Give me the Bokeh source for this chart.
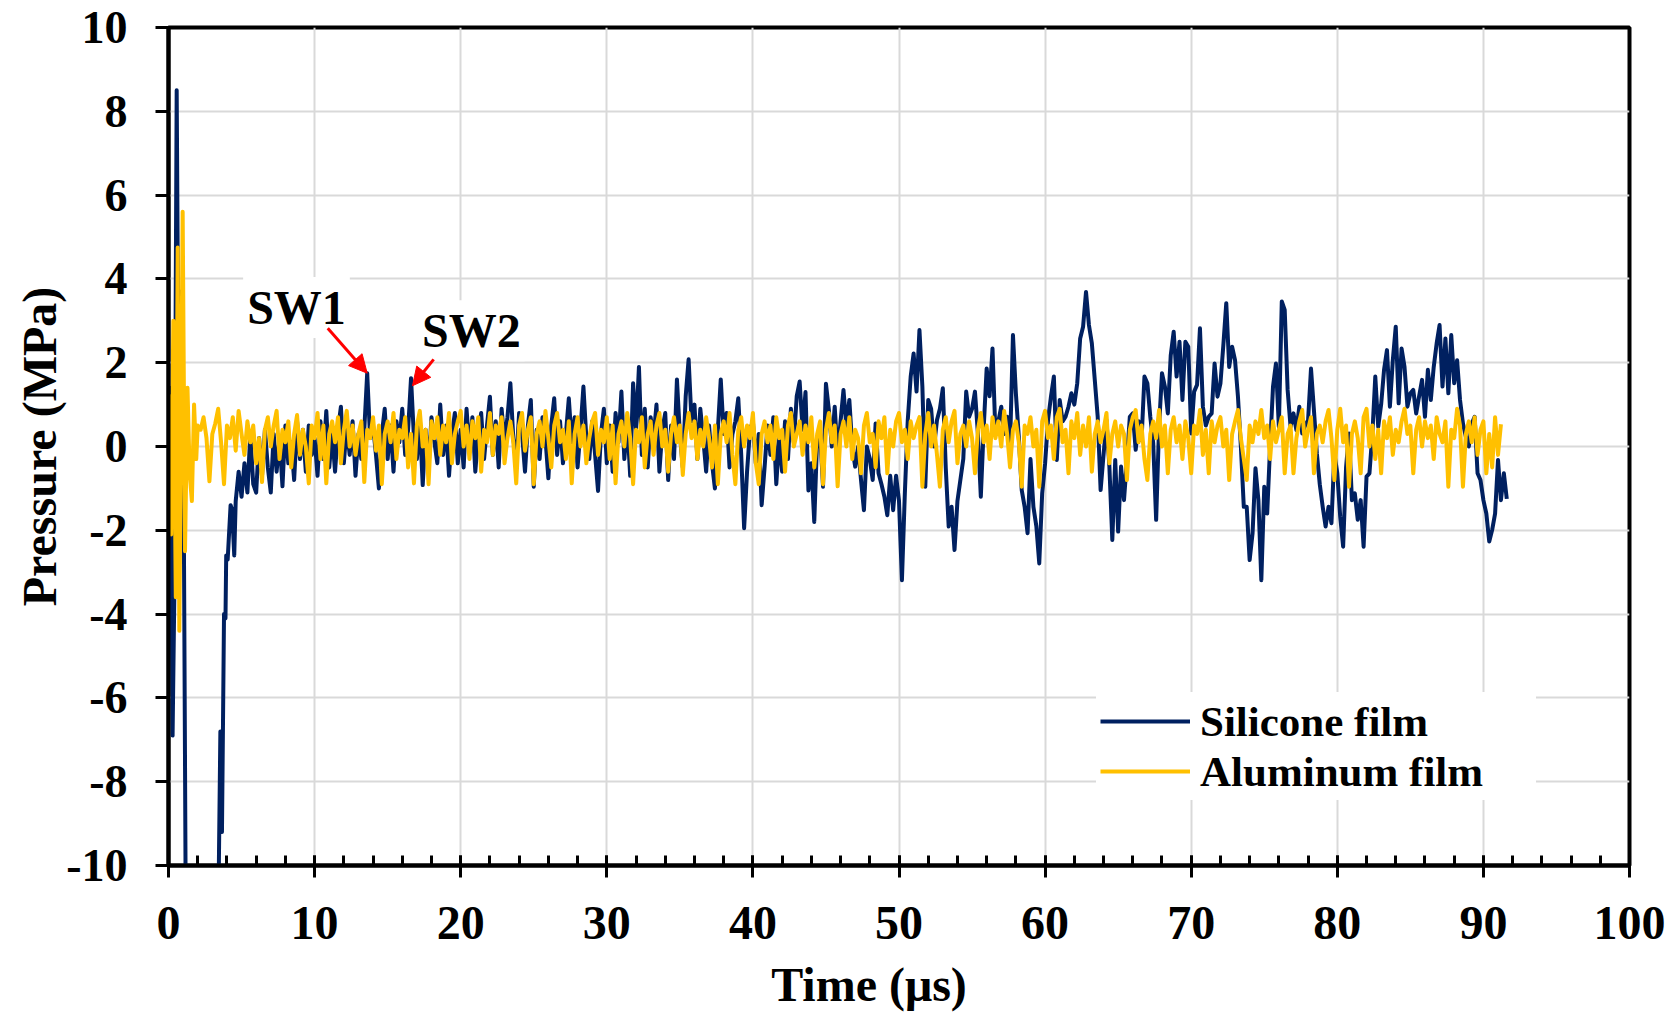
import numpy as np
from bokeh.plotting import figure
from bokeh.models import Range1d, SingleIntervalTicker, Label, Arrow, NormalHead
from bokeh.embed import file_html
from bokeh.resources import INLINE

FONT = "Liberation Serif"
NAVY = "#002060"
GOLD = "#FFC000"

# ---------------- data ----------------
X_TICKS = [0, 10, 20, 30, 40, 50, 60, 70, 80, 90, 100]
Y_TICKS = [-10, -8, -6, -4, -2, 0, 2, 4, 6, 8, 10]
SERIES_NAMES = ["Silicone film", "Aluminum film"]
X_TITLE = "Time (μs)"
Y_TITLE = "Pressure (MPa)"

# Silicone film: irregular early part (time, pressure)
SIL_EARLY_T = [0.0, 0.08, 0.2, 0.28, 0.4, 0.56, 0.72, 0.86, 1.0, 1.06, 1.25, 3.3,
               3.45, 3.55, 3.66, 3.8, 3.9, 3.95, 4.05, 4.25, 4.35, 4.5, 4.6, 4.8]
SIL_EARLY_V = [0.3, 1.4, -2.2, -6.9, -3.5, 8.5, -0.5, 3.7, -1.5, -2.6, -16.0, -16.0,
               -9.9, -6.8, -9.2, -4.0, -4.1, -2.6, -2.7, -1.4, -1.5, -2.6, -1.3, -0.6]
# Silicone film: sampled every 0.2 us from 5.0 us
SIL_START = 5.0
SIL_STEP = 0.2
SIL_MAIN_V = [
    -1.2, -0.4, -1.1, 0.3, -0.9, -1.1, 0.2, -0.7, 0.4, -0.5, -1.1, 0.3, -0.6, 0.2, -0.95, 0.5, -0.4, 0.1, -0.8, 0.6, -0.3, 0.4, -0.6, 0.5, -0.2,
    0.2, -0.7, 0.6, -0.3, 0.85, -0.5, 0.3, -0.6, 0.4, 0.95, -0.4, 0.5, -0.2, 0.6, -0.7, 0.3, -0.3, 0.4, 1.75, 0.2, 0.5, -0.2, -1.0, 0.3, 0.9,
    -0.3, 0.5, -0.6, 0.6, 0.1, 0.9, -0.2, 0.4, 1.63, 0.2, -0.3, 0.6, -0.92, 0.4, -0.5, 0.7, 0.1, -0.4, 1.0, -0.2, 0.5, -0.7, 0.3, 0.8, -0.4,
    0.4, -0.5, 0.9, -0.1, 0.7, -0.6, 0.3, 0.8, -0.3, 0.5, 1.19, -0.2, 0.6, -0.5, 0.9, 0.1, 0.7, 1.51, 0.2, -0.4, 0.8, 0.3, -0.6, 0.5, 1.11,
    -0.96, 0.4, -0.3, 0.7, 0.2, -0.76, 0.5, 1.15, -0.2, 0.6, -0.4, 0.3, 1.15, 0.1, 0.7, -0.5, 0.4, 1.43, 0.2, -0.3, 0.6, -0.2, -1.06, 0.3, 0.9,
    -0.4, 0.5, -0.6, 0.8, 0.1, 1.31, -0.3, 0.6, -0.7, 1.51, 0.4, 1.9, -0.2, 0.9, -0.5, 0.7, 0.2, 1.0, -0.6, 0.4, 0.8, -0.8, 0.5, -0.3, 1.6,
    0.3, -0.5, 1.2, 2.08, 0.6, 1.0, -0.3, 0.9, 0.2, -0.6, 0.5, -0.4, -1.0, 0.4, 1.6, 0.3, 0.8, -0.5, 0.3, 0.6, 1.15, -0.2, -1.95, -0.6, 0.4,
    0.6, -0.4, 0.3, -1.4, -0.5, 0.5, -0.2, 0.7, -0.9, 0.2, -0.6, 0.6, -0.3, 0.9, 0.1, 1.2, 1.55, 0.4, 1.3, -1.05, -0.4, -1.8, 0.2, 0.31, -0.96,
    1.5, 0.87, 0.0, 0.95, -0.24, 0.6, 1.35, 0.47, 1.11, 0.0, -0.48, 0.0, -0.8, -1.52, 0.0, -0.3, -0.8, 0.55, -0.64, -0.9, -1.2, -1.64, -0.7, -1.52, -0.7,
    -1.3, -3.19, -1.12, 0.63, 1.67, 2.22, 1.31, 2.78, 1.43, -0.96, 1.11, 0.9, 0.0, 0.63, 0.9, 1.39, -0.5, -1.91, -1.44, -2.47, -1.3, -0.8, -0.3, 1.31, 0.71,
    0.9, 1.31, 0.31, -1.2, 0.47, 1.86, 1.2, 2.34, 0.31, 0.6, 0.95, 0.3, 0.71, 0.0, 2.66, 1.27, 0.23, -1.04, -1.44, -2.07, -0.3, -1.44, -1.9, -2.79, -1.12,
    -0.4, 0.63, 1.19, 1.67, -0.32, 1.11, 0.6, 0.71, 0.95, 1.27, 1.0, 1.51, 2.58, 2.86, 3.69, 2.9, 2.46, 1.59, 0.71, -1.04, -0.2, 0.63, -0.48, -2.23, -0.32,
    -2.03, -0.48, -1.28, -0.32, 0.71, 0.79, -0.08, 0.6, 0.15, 1.67, 1.51, 0.71, 0.08, -1.75, 0.47, 1.75, 1.43, 0.79, 2.18, 2.74, 1.67, 2.5, 1.11, 2.5, 2.38,
    0.31, 1.31, 1.47, 2.82, 0.95, 0.5, 0.71, 0.79, 1.98, 1.19, 1.5, 2.42, 3.42, 1.9, 2.38, 2.06, 1.19, 0.0, -1.44, -1.44, -2.71, -2.07, -0.52, -1.28, -3.19,
    -0.96, -1.6, 0.0, 1.43, 1.98, 0.47, 3.46, 3.26, 1.35, 0.47, 0.79, 0.39, 0.95, 0.31, 0.5, 0.63, 1.86, 0.87, -0.16, -0.9, -1.44, -1.91, -1.44, -1.83, -0.16,
    -0.64, -1.68, -2.39, -0.5, 0.31, -1.28, -1.12, -1.75, -1.28, -2.39, -0.72, -0.64, 0.3, 1.67, 0.47, 1.0, 1.83, 2.3, 0.95, 2.06, 2.86, 1.03, 2.34, 1.9, 0.95,
    1.27, 1.35, 0.79, 1.2, 1.59, 0.71, 1.83, 1.11, 1.9, 2.46, 2.9, 1.43, 2.58, 1.27, 2.66, 1.51, 2.06, 1.11, 0.55, 0.23, 0.0, 0.55, 0.71, -0.64, -0.8,
    -1.28, -1.6, -2.27, -1.99, -1.6, -0.32, -1.28, -0.64, -1.25,
]

# Aluminum film: irregular early part (time, pressure)
AL_EARLY_T = [0.0, 0.08, 0.18, 0.33, 0.5, 0.63, 0.74, 0.88, 0.97, 1.13, 1.3, 1.45, 1.6, 1.75, 1.9]
AL_EARLY_V = [0.5, 1.2, -2.1, 3.0, -3.6, 4.75, -4.4, 1.5, 5.6, -2.5, 1.4, -0.65, -1.3, 1.0, -0.3]
# Aluminum film: sampled every 0.2 us from 2.0 us
AL_START = 2.0
AL_STEP = 0.2
AL_MAIN_V = [
    0.5, 0.4, 0.7, 0.2, -0.83, 0.3, 0.55, 0.9, 0.1, -0.9, 0.5, 0.2, 0.7, -0.1, 0.85,
    0.3, -0.2, 0.6, 0.1, 0.5, -0.4, 0.2, -0.85, 0.4, 0.7, 0.0, 0.5, 0.85, -0.3, 0.4, 0.1, 0.6, -0.5, 0.3, 0.75, -0.2, 0.4, 0.0, -0.88, 0.5,
    0.2, 0.8, -0.3, 0.5, -0.88, 0.3, 0.6, 0.1, 0.7, -0.4, 0.4, 0.85, 0.0, 0.5, -0.2, 0.3, 0.6, -0.85, 0.4, 0.2, 0.7, -0.1, 0.5, -0.9, 0.3,
    0.6, 0.1, 0.8, -0.3, 0.4, 0.2, 0.7, -0.5, 0.3, -0.88, 0.5, 0.85, 0.0, 0.4, -0.9, 0.6, 0.2, 0.7, -0.2, 0.5, 0.1, 0.8, -0.4, 0.3, 0.6,
    0.85, 0.0, 0.5, -0.3, 0.6, 0.2, 0.7, -0.6, 0.4, 0.1, 0.8, -0.2, 0.5, 0.3, 0.7, -0.4, 0.2, 0.6, 0.1, -0.88, 0.5, 0.8, -0.1, 0.4, 0.7,
    -0.9, 0.3, 0.6, 0.0, 0.85, 0.2, -0.5, 0.5, 0.8, 0.1, 0.4, -0.3, 0.6, -0.88, 0.3, 0.7, 0.0, 0.5, -0.4, 0.2, 0.6, 0.8, -0.2, 0.4, 0.1,
    0.7, -0.3, 0.5, -0.88, 0.3, 0.6, 0.0, 0.8, 0.2, -0.9, 0.4, 0.1, 0.7, -0.5, 0.3, 0.6, -0.2, 0.5, 0.8, 0.0, 0.4, -0.6, 0.3, 0.7, 0.1,
    0.5, -0.68, 0.3, 0.8, 0.2, 0.6, -0.3, 0.4, 0.0, 0.7, 0.2, -0.5, 0.5, -0.9, 0.3, 0.6, 0.1, 0.8, -0.2, -0.9, 0.4, 0.7, 0.0, 0.5, 0.2,
    0.8, -0.4, -0.9, 0.3, 0.6, 0.1, 0.5, -0.3, 0.7, 0.2, 0.4, -0.6, 0.5, 0.8, 0.0, 0.3, 0.6, -0.2, 0.5, 0.1, 0.7, -0.5, 0.3, 0.6, -0.9,
    0.4, 0.8, 0.1, 0.5, -0.95, 0.3, 0.6, 0.0, 0.7, -0.3, 0.4, 0.2, -0.64, 0.5, 0.8, 0.1, 0.3, -0.5, 0.6, 0.2, 0.7, -0.64, 0.4, 0.0, 0.6,
    0.8, 0.1, 0.4, -0.3, 0.6, 0.2, 0.5, 0.7, -0.96, 0.3, 0.8, 0.0, 0.5, -0.2, -0.96, 0.4, 0.7, 0.1, 0.6, 0.85, -0.4, 0.3, 0.5, 0.0, 0.6,
    0.2, -0.64, 0.4, 0.8, 0.1, 0.5, -0.3, 0.7, 0.2, 0.6, 0.0, 0.85, 0.3, -0.5, 0.4, 0.6, 0.1, -0.96, 0.5, 0.3, 0.7, 0.0, 0.4, -0.96, 0.6,
    0.85, 0.2, 0.5, -0.3, 0.7, 0.9, 0.1, 0.4, -0.64, 0.6, 0.2, 0.8, -0.2, 0.5, 0.0, 0.7, -0.6, 0.3, 0.6, 0.1, 0.4, 0.8, -0.4, 0.3, 0.6,
    0.0, 0.5, 0.3, -0.8, 0.4, 0.7, 0.87, 0.1, 0.5, -0.3, -0.8, 0.3, 0.6, 0.2, 0.87, 0.0, 0.5, -0.64, 0.4, 0.7, 0.1, 0.5, -0.3, 0.6, 0.2,
    -0.64, 0.5, 0.3, 0.87, -0.2, 0.4, -0.64, 0.6, 0.1, 0.5, 0.7, 0.0, 0.4, -0.8, 0.3, 0.6, 0.87, 0.2, -0.3, -0.8, 0.5, 0.1, 0.6, 0.3, 0.87,
    0.2, 0.5, -0.3, 0.6, 0.1, 0.4, 0.7, -0.64, 0.3, 0.5, -0.64, 0.2, 0.6, 0.87, 0.0, 0.4, 0.7, -0.64, 0.3, 0.5, 0.1, 0.6, 0.87, 0.2, -0.8,
    0.4, 0.9, 0.1, 0.5, -0.96, 0.3, 0.6, 0.2, -0.64, 0.7, 0.9, 0.0, 0.5, -0.3, 0.4, -0.64, 0.6, 0.2, 0.7, -0.2, 0.4, 0.1, 0.6, 0.9, 0.3,
    0.5, -0.64, 0.4, 0.7, 0.0, 0.6, 0.2, 0.5, -0.3, 0.7, 0.3, 0.1, 0.6, -0.96, 0.4, 0.2, 0.9, 0.5, -0.96, 0.3, 0.6, 0.1, 0.7, -0.2, 0.4,
    0.6, -0.64, 0.3, -0.5, 0.7, -0.2, 0.53,
]

# annotations (data coordinates)
SW_LABELS = ["SW1", "SW2"]
SW_LABEL_POS = [(8.76, 3.32), (20.73, 2.76)]
SW_ARROW_FROM = [(10.9, 2.82), (18.15, 2.08)]
SW_ARROW_TO = [(13.6, 1.75), (16.7, 1.45)]

# ---------------- build series ----------------
sil_t = list(SIL_EARLY_T) + list(np.round(SIL_START + SIL_STEP * np.arange(len(SIL_MAIN_V)), 3))
sil_v = list(SIL_EARLY_V) + list(SIL_MAIN_V)
al_t = list(AL_EARLY_T) + list(np.round(AL_START + AL_STEP * np.arange(len(AL_MAIN_V)), 3))
al_v = list(AL_EARLY_V) + list(AL_MAIN_V)

# the x title in the reference sits a little left of the frame centre:
# trailing no-break spaces shift the centred title accordingly
x_title_text = X_TITLE + "\u00a0" * 5

p = figure(width=1668, height=1014,
           x_range=Range1d(X_TICKS[0], X_TICKS[-1]), y_range=Range1d(Y_TICKS[0], Y_TICKS[-1]),
           output_backend="svg", toolbar_location=None,
           min_border_left=168, min_border_right=39, min_border_top=27, min_border_bottom=149,
           x_axis_label=x_title_text, y_axis_label=Y_TITLE)

p.line(sil_t, sil_v, line_color=NAVY, line_width=4, line_join="round", legend_label=SERIES_NAMES[0])
p.line(al_t, al_v, line_color=GOLD, line_width=4, line_join="round", legend_label=SERIES_NAMES[1])

# frame / grid
p.outline_line_color = "black"
p.outline_line_width = 4
p.outline_line_alpha = 1
p.xgrid.grid_line_color = "#d9d9d9"
p.ygrid.grid_line_color = "#d9d9d9"
p.xgrid.grid_line_width = 2
p.ygrid.grid_line_width = 2

# axes
p.xaxis.ticker = SingleIntervalTicker(interval=10, num_minor_ticks=5)
p.yaxis.ticker = SingleIntervalTicker(interval=2, num_minor_ticks=0)
p.yaxis.major_label_overrides = {v: str(v) for v in Y_TICKS}
p.xaxis.major_label_overrides = {v: str(v) for v in X_TICKS}
for ax in (p.xaxis[0], p.yaxis[0]):
    ax.axis_line_width = 4
    ax.axis_line_color = "black"
    ax.major_tick_line_width = 3
    ax.major_tick_line_color = "black"
    ax.major_label_text_font = FONT
    ax.major_label_text_font_style = "bold"
    ax.major_label_text_color = "black"
    ax.axis_label_text_font = FONT
    ax.axis_label_text_font_style = "bold"
    ax.axis_label_text_font_size = "48px"
    ax.axis_label_text_color = "black"
p.xaxis.major_label_text_font_size = "48px"
p.yaxis.major_label_text_font_size = "46px"

p.xaxis.major_tick_in = 10
p.xaxis.major_tick_out = 12
p.xaxis.minor_tick_in = 10
p.xaxis.minor_tick_out = 0
p.xaxis.minor_tick_line_width = 3
p.xaxis.minor_tick_line_color = "black"
p.xaxis.major_label_standoff = 29
p.xaxis.axis_label_standoff = 16

p.yaxis.major_tick_in = 0
p.yaxis.major_tick_out = 13
p.yaxis.minor_tick_line_color = None
p.yaxis.major_label_standoff = 28
p.yaxis.axis_label_standoff = -3

# legend
lg = p.legend[0]
lg.location = (928, 65)
lg.label_text_font = FONT
lg.label_text_font_style = "bold"
lg.label_text_font_size = "43px"
lg.label_text_color = "black"
lg.glyph_width = 90
lg.glyph_height = 50
lg.label_height = 50
lg.label_width = 332
lg.label_standoff = 10
lg.spacing = 0
lg.padding = 4
lg.margin = 0
lg.border_line_alpha = 0
lg.background_fill_color = "white"
lg.background_fill_alpha = 1

# SW annotations
for name, (lx, ly), (ax0, ay0), (ax1, ay1) in zip(SW_LABELS, SW_LABEL_POS, SW_ARROW_FROM, SW_ARROW_TO):
    p.add_layout(Label(x=lx, y=ly, text=name, text_align="center", text_baseline="middle",
                       text_font=FONT, text_font_style="bold", text_font_size="48px",
                       text_color="black", background_fill_color="white", padding=4))
    p.add_layout(Arrow(end=NormalHead(size=18, fill_color="red", line_color="red", line_width=1),
                       x_start=ax0, y_start=ay0, x_end=ax1, y_end=ay1,
                       line_color="red", line_width=3))

open("out.html", "w").write(file_html(p, INLINE))
